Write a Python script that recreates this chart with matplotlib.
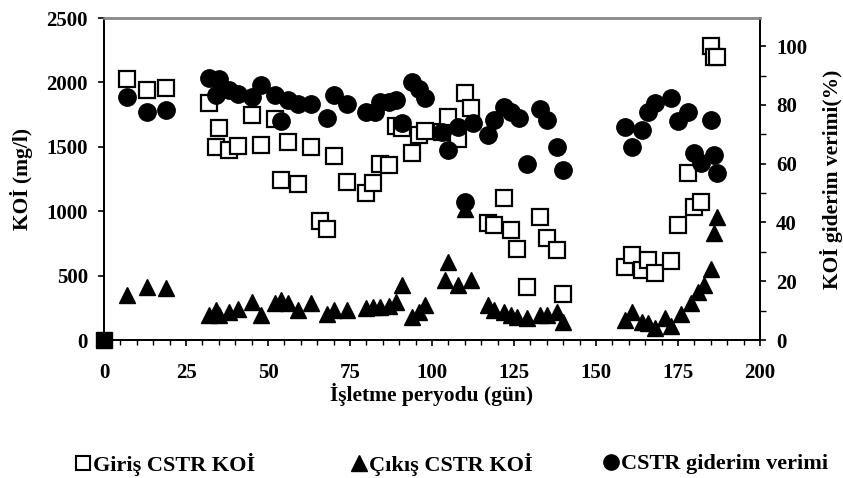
import matplotlib.pyplot as plt
from matplotlib.lines import Line2D
from matplotlib.ticker import MultipleLocator

plt.rcParams['font.family'] = ['Liberation Serif', 'DejaVu Serif']
plt.rcParams['font.weight'] = 'bold'

# Giriş CSTR KOİ (mg/l)
gun_giris = [7, 13, 19, 32, 34, 35, 38, 41, 45, 48, 52, 54, 56, 59, 63, 66, 68, 70, 74,
             80, 82, 84, 87, 89, 91, 94, 96, 98, 103, 105, 108, 110, 112, 117, 119, 122,
             124, 126, 129, 133, 135, 138, 140, 159, 161, 164, 166, 168, 173, 175, 178,
             180, 182, 185, 186, 187]
koi_giris = [2030, 1940, 1955, 1840, 1495, 1645, 1475, 1505, 1745, 1515, 1715, 1240, 1540,
             1210, 1500, 925, 865, 1425, 1230, 1140, 1220, 1365, 1360, 1660, 1645, 1455,
             1595, 1625, 1615, 1735, 1560, 1920, 1805, 905, 895, 1100, 855, 710, 415, 955,
             790, 700, 360, 570, 660, 545, 620, 520, 610, 895, 1295, 1035, 1075, 2285,
             2200, 2195]

# Çıkış CSTR KOİ (mg/l)
gun_cikis = [7, 13, 19, 32, 34, 35, 38, 41, 45, 48, 52, 54, 56, 59, 63, 68, 70, 74, 80,
             82, 84, 87, 89, 91, 94, 96, 98, 104, 105, 108, 110, 112, 117, 119, 122, 124,
             126, 129, 133, 135, 138, 140, 159, 161, 164, 166, 168, 171, 173, 176, 179,
             181, 183, 185, 186, 187]
koi_cikis = [350, 415, 400, 195, 235, 195, 220, 240, 295, 195, 285, 310, 285, 235, 285,
             205, 235, 235, 245, 260, 260, 265, 295, 425, 180, 220, 270, 465, 605, 425,
             1020, 465, 270, 235, 220, 195, 180, 170, 195, 195, 220, 140, 155, 220, 140,
             130, 90, 170, 110, 205, 285, 375, 425, 555, 830, 955]

# CSTR giderim verimi (%)
gun_verim = [7, 13, 19, 32, 34, 35, 38, 41, 45, 48, 52, 54, 56, 59, 63, 68, 70, 74, 80,
             82.5, 84, 87, 89, 91, 94, 96, 98, 103, 105, 108, 110, 112.5, 117, 119, 122,
             124, 126.5, 129, 133, 135, 138, 140, 159, 161, 164, 166, 168, 173, 175, 178,
             180, 182, 185, 186, 187]
verim = [82.8, 77.7, 78.2, 89.3, 83.3, 88.8, 85.0, 83.9, 82.8, 86.7, 83.3, 74.6, 81.6,
         80.5, 80.5, 75.7, 83.3, 80.5, 77.7, 77.7, 81.0, 81.0, 81.6, 73.7, 87.9, 85.6,
         82.5, 70.9, 64.6, 72.6, 47.0, 73.7, 69.7, 74.8, 79.4, 77.7, 75.4, 59.8, 78.5,
         74.8, 65.8, 57.8, 72.6, 65.8, 71.4, 77.7, 80.8, 82.5, 74.6, 77.7, 63.5, 60.1,
         74.8, 62.9, 56.7]

fig = plt.figure(figsize=(8.43, 4.78), dpi=100)
ax = fig.add_axes([0.1234, 0.2887, 0.7781, 0.6736])
ax2 = ax.twinx()

ax.plot(gun_giris, koi_giris, ls='none', marker='s', ms=11.5, mfc='white', mec='black',
        mew=1.6)
ax.plot(gun_cikis, koi_cikis, ls='none', marker='^', ms=12, color='black')
ax.plot([0], [0], ls='none', marker='s', ms=12, color='black', clip_on=False, zorder=5)
ax2.plot(gun_verim, verim, ls='none', marker='o', ms=12.5, color='black')

ax.set_xlim(0, 200)
ax.set_ylim(0, 2500)
ax2.set_ylim(0, 109.6)
ax.xaxis.set_major_locator(MultipleLocator(25))
ax.xaxis.set_minor_locator(MultipleLocator(5))
ax.yaxis.set_major_locator(MultipleLocator(500))
ax2.yaxis.set_major_locator(MultipleLocator(20))
ax2.yaxis.set_minor_locator(MultipleLocator(10))

for a in (ax, ax2):
    a.tick_params(which='major', direction='out', length=4.5, width=1.2, labelsize=15,
                  pad=7)
    a.tick_params(which='minor', direction='out', length=4.5, width=1)
    for side in ('left', 'right', 'bottom'):
        a.spines[side].set_linewidth(1.3)
    a.spines['top'].set_color('#8c8c8c')
    a.spines['top'].set_linewidth(1.8)
ax.tick_params(axis='x', which='major', pad=12)
ax.tick_params(axis='x', which='minor', length=3.5)
for lbl in ax.get_xticklabels() + ax.get_yticklabels() + ax2.get_yticklabels():
    lbl.set_fontweight('bold')

ax.set_xlabel('İşletme peryodu (gün)', fontsize=15.5, fontweight='bold', labelpad=0)
ax.set_ylabel('KOİ (mg/l)', fontsize=15.5, fontweight='bold', labelpad=10)
ax2.set_ylabel('KOİ giderim verimi(%)', fontsize=15.5, fontweight='bold', labelpad=9)

# legend entries placed one by one along the bottom
entries = [
    (Line2D([], [], ls='none', marker='s', ms=10, mfc='white', mec='black', mew=1.5),
     'Giriş CSTR KOİ', 76),
    (Line2D([], [], ls='none', marker='^', ms=11, color='black'), 'Çıkış CSTR KOİ', 352),
    (Line2D([], [], ls='none', marker='o', ms=11, color='black'), 'CSTR giderim verimi', 604),
]
for handle, text, xpix in entries:
    fig.legend([handle], [text], loc='center left', bbox_to_anchor=(xpix / 843, 1 - 464 / 478),
               frameon=False, handlelength=0.6, handletextpad=0.15, borderpad=0,
               borderaxespad=0, prop={'size': 16, 'weight': 'bold'})

fig.savefig('out.png', dpi=100)
